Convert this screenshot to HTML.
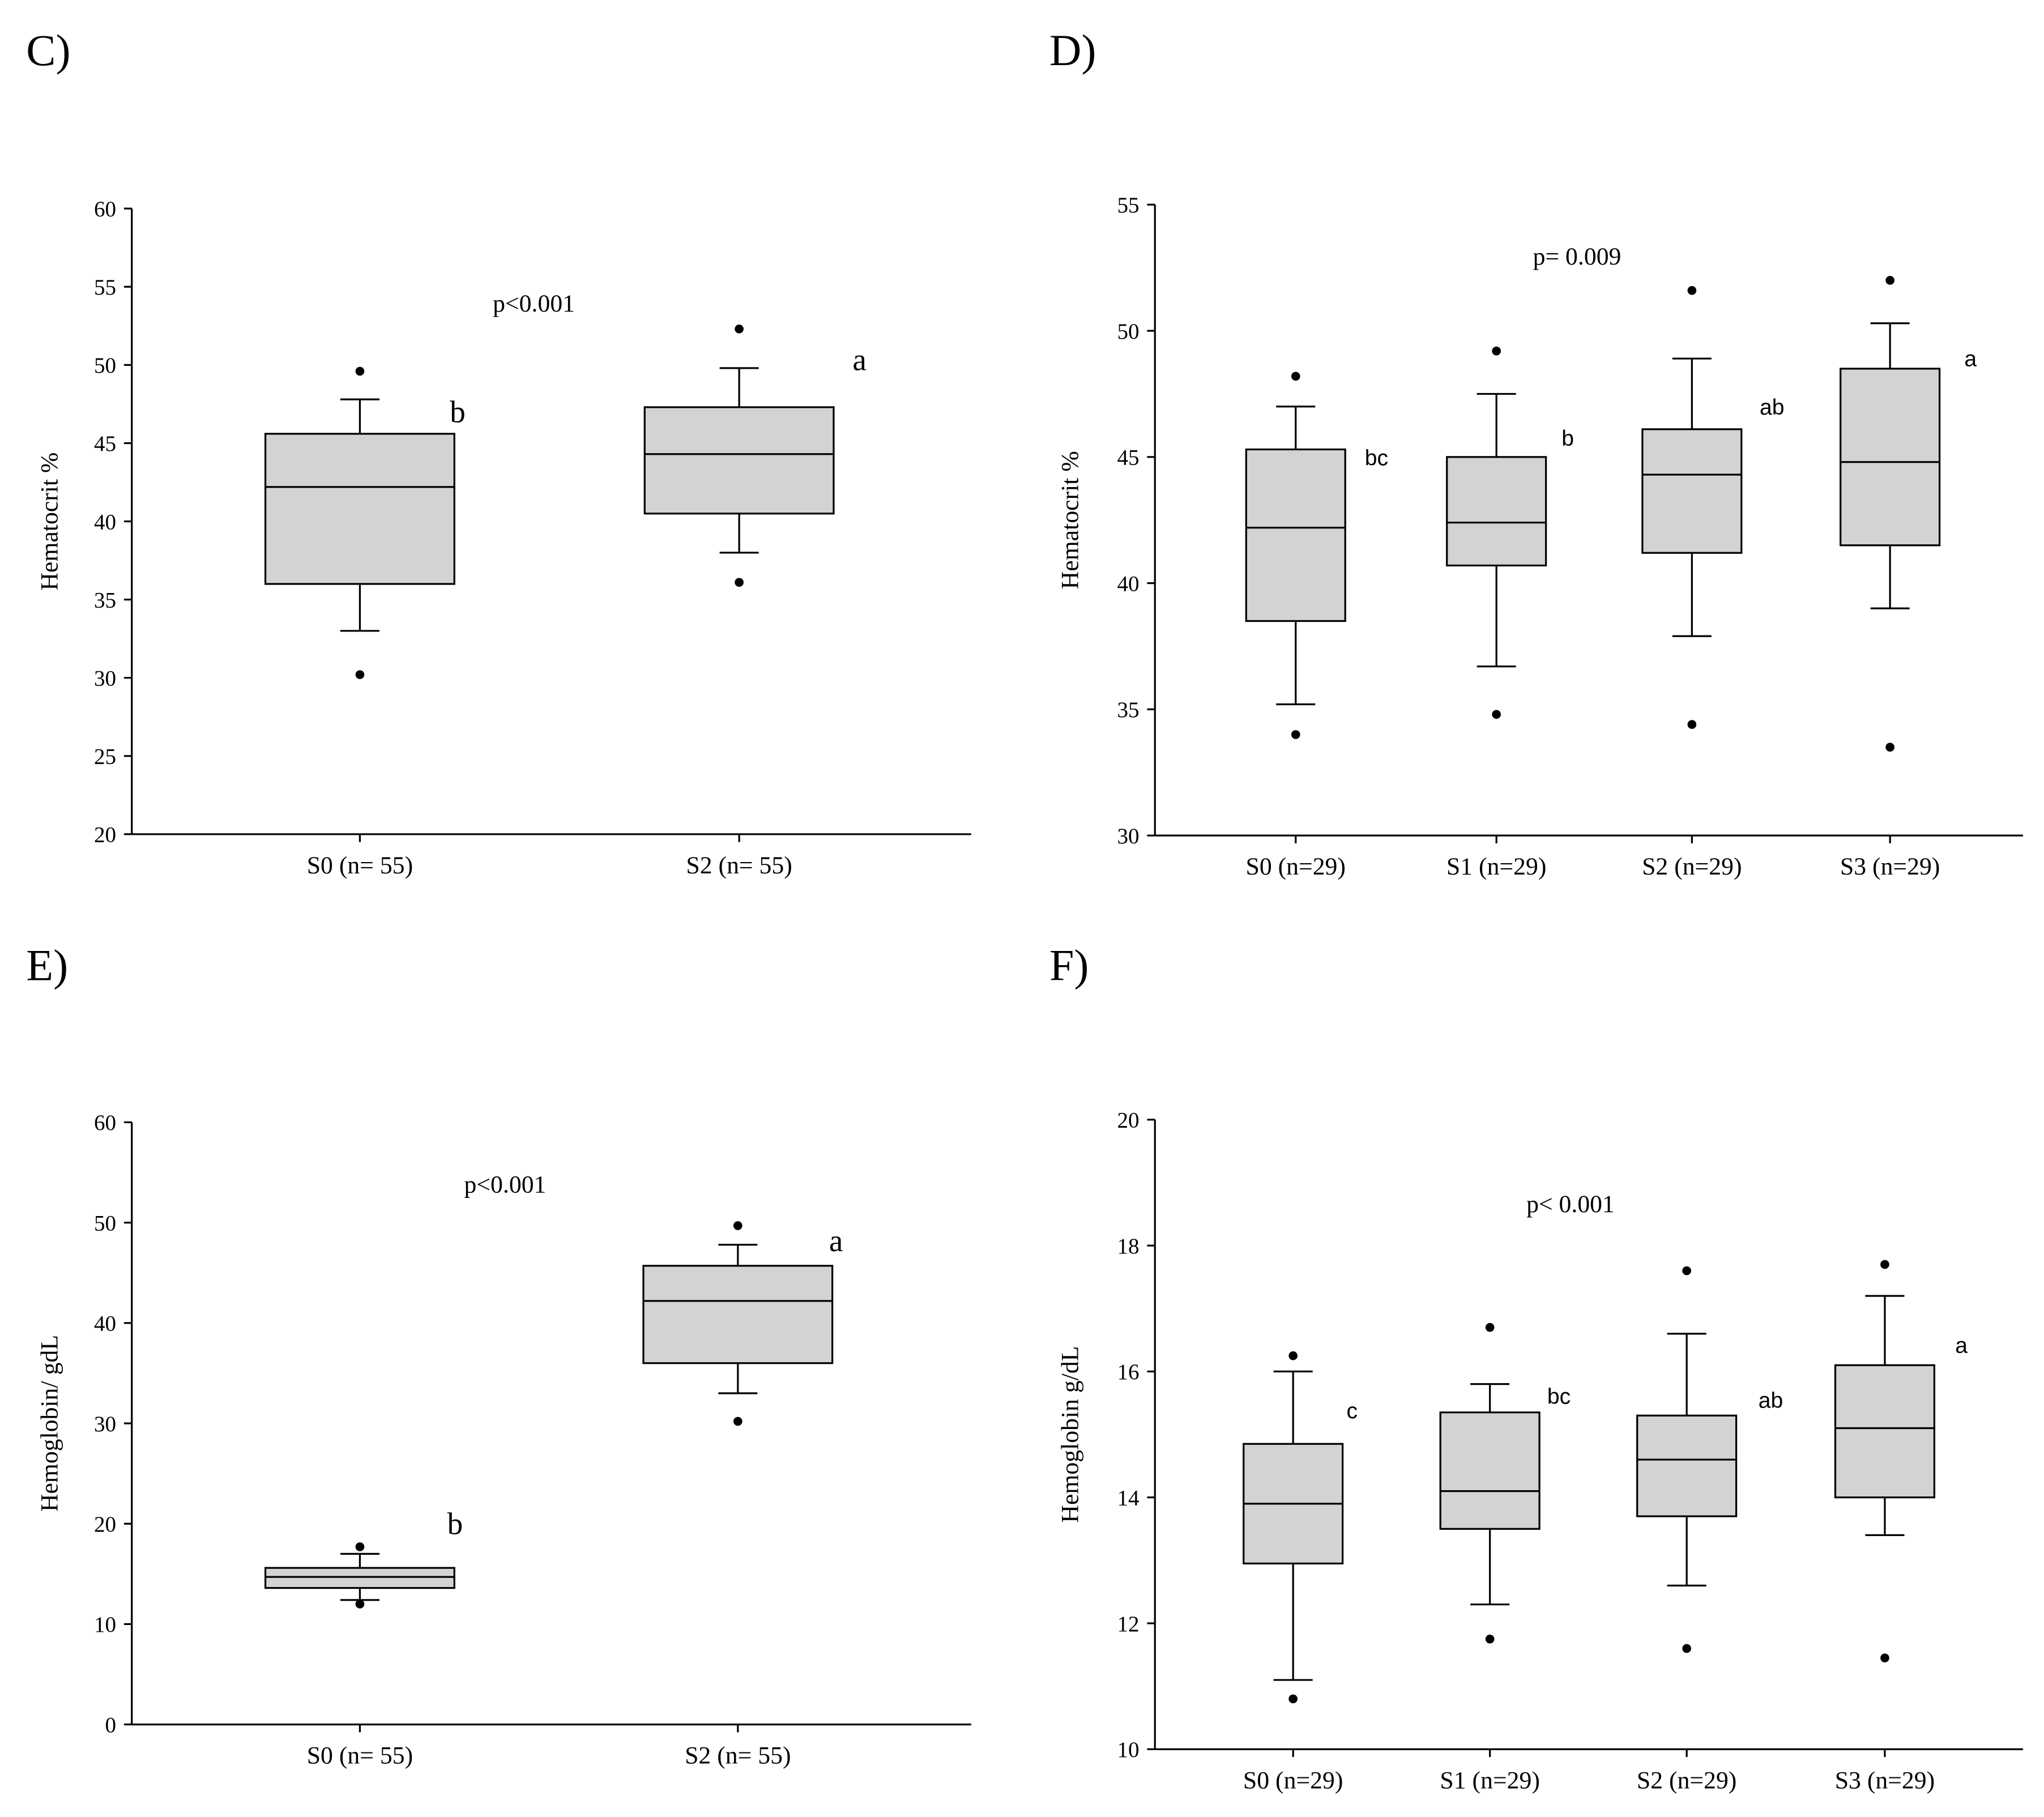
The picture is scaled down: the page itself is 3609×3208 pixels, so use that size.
<!DOCTYPE html>
<html><head><meta charset="utf-8">
<style>
html,body{margin:0;padding:0;background:#fff;}
svg{display:block;}
text{font-family:"Liberation Serif",serif;fill:#000;}
.sans{font-family:"Liberation Sans",sans-serif;}
</style></head>
<body>
<svg id="chart" width="3609" height="3208" viewBox="0 0 1568 1394" xmlns="http://www.w3.org/2000/svg">
<text x="20" y="50" font-size="34">C)</text>
<text x="805" y="50" font-size="34">D)</text>
<text x="20" y="752" font-size="34">E)</text>
<text x="805" y="752" font-size="34">F)</text>
</svg>
<script>
// Panel C
const cCats=["S0 (n= 55)","S2 (n= 55)"];
const cQ1=[36,40.5], cMed=[42.2,44.3], cQ3=[45.6,47.3], cLo=[33,38], cHi=[47.8,49.8];
const cOutLo=[30.2,36.1], cOutHi=[49.6,52.3];
const cLetters=["b","a"];
const cTicks=[20,25,30,35,40,45,50,55,60];
// Panel D
const dCats=["S0 (n=29)","S1 (n=29)","S2 (n=29)","S3 (n=29)"];
const dQ1=[38.5,40.7,41.2,41.5], dMed=[42.2,42.4,44.3,44.8], dQ3=[45.3,45,46.1,48.5];
const dLo=[35.2,36.7,37.9,39], dHi=[47,47.5,48.9,50.3];
const dOutLo=[34,34.8,34.4,33.5], dOutHi=[48.2,49.2,51.6,52];
const dLetters=["bc","b","ab","a"];
const dTicks=[30,35,40,45,50,55];
// Panel E
const eCats=["S0 (n= 55)","S2 (n= 55)"];
const eQ1=[13.6,36], eMed=[14.7,42.2], eQ3=[15.6,45.7], eLo=[12.4,33], eHi=[17,47.8];
const eOutLo=[12,30.2], eOutHi=[17.7,49.7];
const eLetters=["b","a"];
const eTicks=[0,10,20,30,40,50,60];
// Panel F
const fCats=["S0 (n=29)","S1 (n=29)","S2 (n=29)","S3 (n=29)"];
const fQ1=[12.95,13.5,13.7,14], fMed=[13.9,14.1,14.6,15.1], fQ3=[14.85,15.35,15.3,16.1];
const fLo=[11.1,12.3,12.6,13.4], fHi=[16,15.8,16.6,17.2];
const fOutLo=[10.8,11.75,11.6,11.45], fOutHi=[16.25,16.7,17.6,17.7];
const fLetters=["c","bc","ab","a"];
const fTicks=[10,12,14,16,18,20];

const NS="http://www.w3.org/2000/svg";
const svg=document.getElementById('chart');
function mk(tag,attrs,parent){const e=document.createElementNS(NS,tag);for(const k in attrs)e.setAttribute(k,attrs[k]);(parent||svg).appendChild(e);return e;}

function panel(o){
  const g=mk('g',{});
  
  
  const y=v=>o.yTop+(o.max-v)/(o.max-o.min)*(o.yBot-o.yTop);
  const line=(x1,y1,x2,y2)=>mk('line',{x1,y1,x2,y2,stroke:'#000','stroke-width':1.4},g);
  const ax=line(o.x0,o.yTop,o.x0,o.yBot);
  
  
  const bx=line(o.x0,o.yBot,o.x1,o.yBot);
  
  
  o.ticks.forEach(t=>{
    line(o.x0-6,y(t),o.x0,y(t));
    const tx=mk('text',{x:o.x0-12,y:y(t)+6,'font-size':17,'text-anchor':'end'},g);
    tx.textContent=t;
    
    
  });
  const yt=mk('text',{x:0,y:0,'font-size':19,'text-anchor':'middle',transform:`translate(${o.ytx},${(o.yTop+o.yBot)/2}) rotate(-90)`},g);
  yt.textContent=o.ytitle;
  
  
  const pt=mk('text',{x:o.px,y:o.py,'font-size':19},g);
  pt.textContent=o.ptext;
  
  
  o.cats.forEach((c,i)=>{
    const cx=o.cx[i], hw=o.bw/2, cw=o.cap/2;
    line(cx,o.yBot,cx,o.yBot+6);
    const lt=mk('text',{x:cx,y:o.yBot+30,'font-size':19,'text-anchor':'middle'},g);
    lt.textContent=c;
    
    
    line(cx,y(o.hi[i]),cx,y(o.q3[i]));
    line(cx,y(o.lo[i]),cx,y(o.q1[i]));
    line(cx-cw,y(o.hi[i]),cx+cw,y(o.hi[i]));
    line(cx-cw,y(o.lo[i]),cx+cw,y(o.lo[i]));
    const r=mk('rect',{x:cx-hw,y:y(o.q3[i]),width:o.bw,height:y(o.q1[i])-y(o.q3[i]),fill:'#d3d3d3',stroke:'#000','stroke-width':1.4},g);
    
    
    line(cx-hw,y(o.med[i]),cx+hw,y(o.med[i]));
    [o.outLo[i],o.outHi[i]].forEach(v=>{
      const d=mk('circle',{cx:cx,cy:y(v),r:3.4,fill:'#000'},g);
      
      
    });
    const le=mk('text',{x:o.lpos[i][0],y:o.lpos[i][1],'font-size':o.lfs},g);
    if(o.sans)le.setAttribute('class','sans');
    le.textContent=o.letters[i];
    
    
  });
}
panel({name:'panel-c-hematocrit',x0:101,x1:745,yTop:160,yBot:640,min:20,max:60,ticks:cTicks,cats:cCats,cx:[276,567],bw:145,cap:30,
 q1:cQ1,med:cMed,q3:cQ3,lo:cLo,hi:cHi,outLo:cOutLo,outHi:cOutHi,letters:cLetters,lpos:[[345,324],[654,284]],lfs:24,
 ytitle:'Hematocrit  %',ytx:44,ptext:'p<0.001',px:378,py:239});
panel({name:'panel-d-hematocrit',x0:886,x1:1552,yTop:157,yBot:641,min:30,max:55,ticks:dTicks,cats:dCats,cx:[994,1148,1298,1450],bw:76,cap:30,
 q1:dQ1,med:dMed,q3:dQ3,lo:dLo,hi:dHi,outLo:dOutLo,outHi:dOutHi,letters:dLetters,lpos:[[1047,357],[1198,342],[1350,318],[1507,281]],lfs:17,sans:true,
 ytitle:'Hematocrit %',ytx:827,ptext:'p= 0.009',px:1176,py:203});
panel({name:'panel-e-hemoglobin',x0:101,x1:745,yTop:861,yBot:1323,min:0,max:60,ticks:eTicks,cats:eCats,cx:[276,566],bw:145,cap:30,
 q1:eQ1,med:eMed,q3:eQ3,lo:eLo,hi:eHi,outLo:eOutLo,outHi:eOutHi,letters:eLetters,lpos:[[343,1177],[636,960]],lfs:24,
 ytitle:'Hemoglobin/ gdL',ytx:44,ptext:'p<0.001',px:356,py:915});
panel({name:'panel-f-hemoglobin',x0:886,x1:1552,yTop:859,yBot:1342,min:10,max:20,ticks:fTicks,cats:fCats,cx:[992,1143,1294,1446],bw:76,cap:30,
 q1:fQ1,med:fMed,q3:fQ3,lo:fLo,hi:fHi,outLo:fOutLo,outHi:fOutHi,letters:fLetters,lpos:[[1033,1088],[1187,1077],[1349,1080],[1500,1038]],lfs:17,sans:true,
 ytitle:'Hemoglobin g/dL',ytx:827,ptext:'p< 0.001',px:1171,py:930});
</script>
</body></html>
